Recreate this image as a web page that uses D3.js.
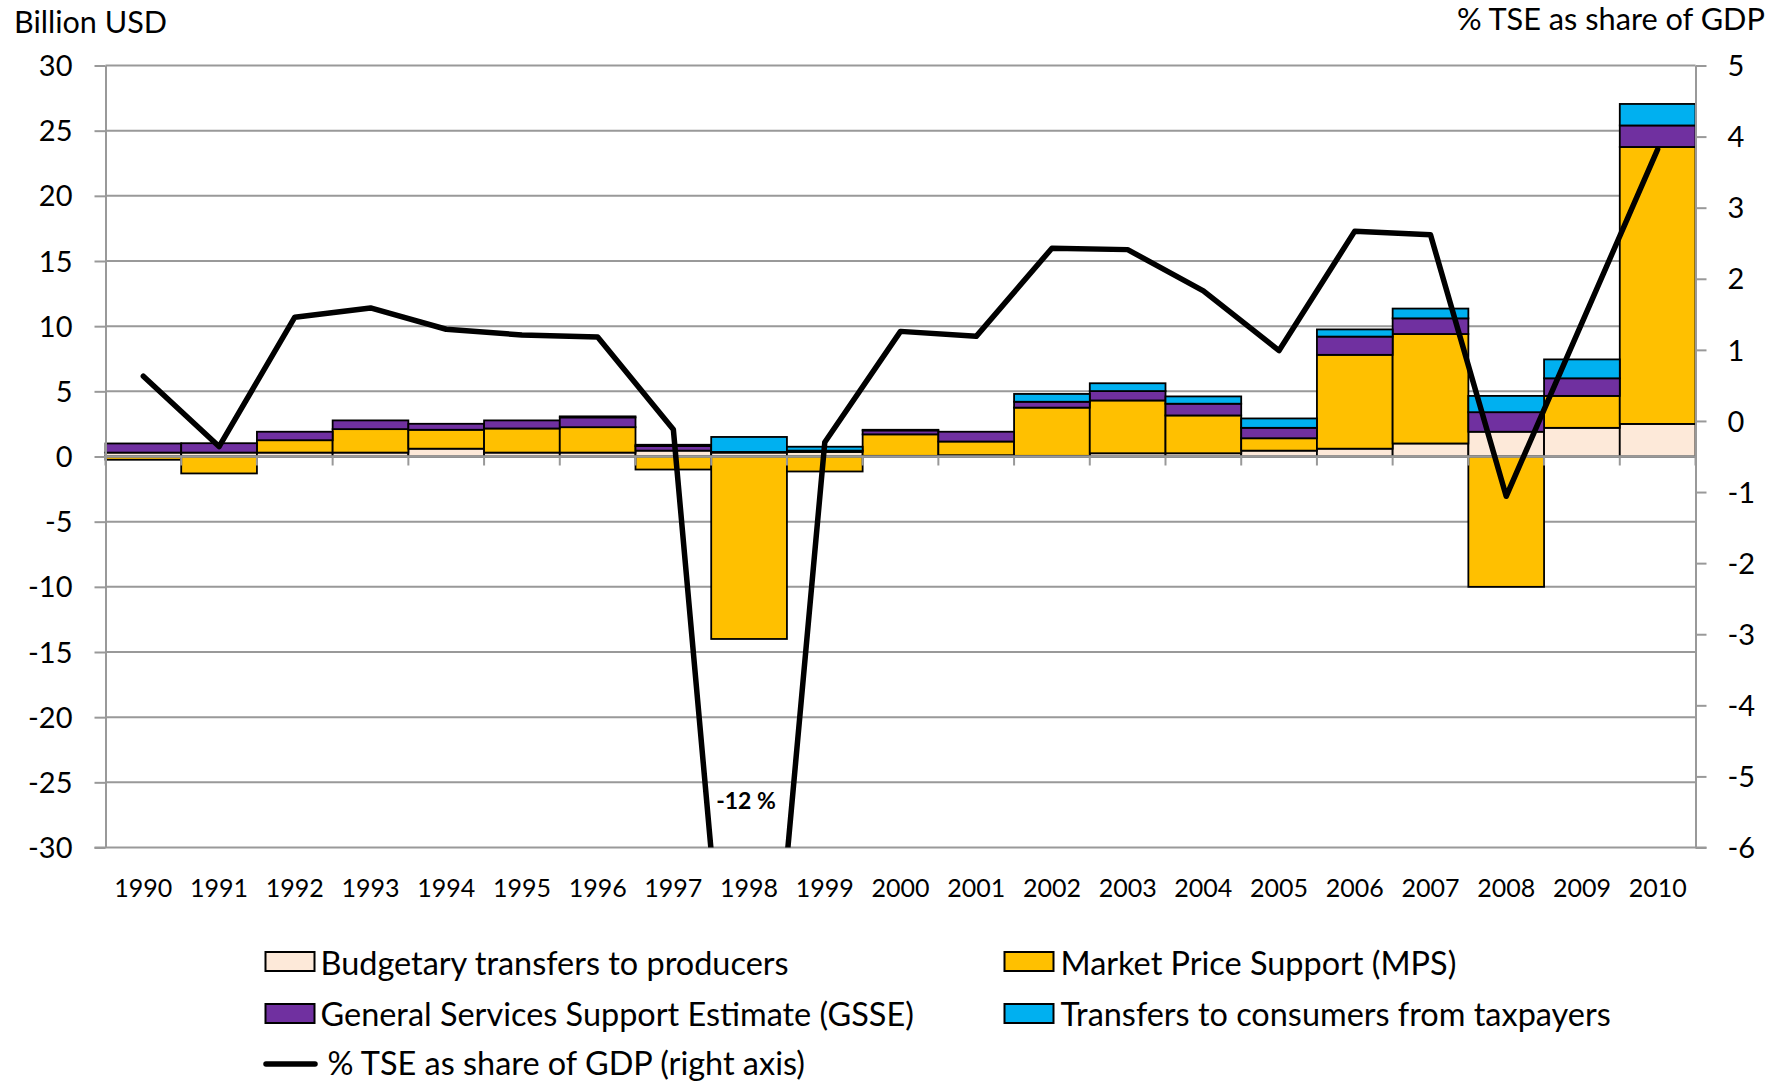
<!DOCTYPE html>
<html>
<head>
<meta charset="utf-8">
<script src="https://cdn.jsdelivr.net/npm/d3@7"></script>
<style>
  html, body { margin: 0; padding: 0; background: #fff; }
  svg { display: block; font-family: Lato, "Open Sans", sans-serif; }
</style>
</head>
<body>
<svg id="chart" width="1788" height="1081"></svg>
<script>
// ---------- data ----------
const years = ["1990","1991","1992","1993","1994","1995","1996","1997","1998","1999","2000",
               "2001","2002","2003","2004","2005","2006","2007","2008","2009","2010"];
const budgetary = [0.3, 0.3, 0.3, 0.3, 0.6, 0.3, 0.3, 0.45, 0.3, 0.35, 0.05,
                   0.1, 0.05, 0.25, 0.25, 0.45, 0.6, 1.0, 1.9, 2.2, 2.5];
const mps       = [-0.25, -1.3, 0.95, 1.8, 1.45, 1.85, 1.95, -1.0, -14.0, -1.15, 1.65,
                   1.05, 3.7, 4.05, 2.9, 0.95, 7.2, 8.4, -10.0, 2.45, 21.25];
const gsse      = [0.7, 0.72, 0.65, 0.67, 0.46, 0.62, 0.75, 0.35, 0.05, 0.1, 0.3,
                   0.75, 0.45, 0.72, 0.9, 0.8, 1.4, 1.2, 1.5, 1.35, 1.65];
const transfers = [0, 0, 0, 0, 0, 0, 0.08, 0.1, 1.15, 0.3, 0.05,
                   0, 0.6, 0.6, 0.56, 0.72, 0.55, 0.75, 1.25, 1.45, 1.65];
const tseShare  = [0.63, -0.36, 1.46, 1.59, 1.29, 1.21, 1.18, -0.12, -12, -0.3, 1.26,
                   1.19, 2.43, 2.41, 1.83, 0.99, 2.67, 2.62, -1.06, 1.38, 3.82];
const leftTicks  = [-30, -25, -20, -15, -10, -5, 0, 5, 10, 15, 20, 25, 30];
const rightTicks = [-6, -5, -4, -3, -2, -1, 0, 1, 2, 3, 4, 5];
const seriesKeys   = ["budgetary", "mps", "gsse", "transfers"];
const seriesNames  = ["Budgetary transfers to producers", "Market Price Support (MPS)",
                      "General Services Support Estimate (GSSE)", "Transfers to consumers from taxpayers"];
const seriesColors = ["#FDE9D9", "#FFC000", "#7030A0", "#00B0F0"];
const lineName = "% TSE as share of GDP (right axis)";
const leftTitle = "Billion USD";
const rightTitle = "% TSE as share of GDP";
const minLabel = "-12 %";

// ---------- layout ----------
const svg = d3.select("#chart");
const P = { l: 105.5, r: 1695.5, t: 65.5, b: 847.5 };
const grid = "#999999";

const x = d3.scaleBand().domain(years).range([P.l, P.r]).padding(0);
const yL = d3.scaleLinear().domain([-30, 30]).range([P.b, P.t]);
const yR = d3.scaleLinear().domain([-6, 5]).range([P.b, P.t]);
const plainFmt = d => String(d);

svg.append("rect").attr("width", 1788).attr("height", 1081).attr("fill", "#fff");

function fit(sel, target, base) {
  sel.attr("font-size", base);
  const w = sel.node().getComputedTextLength();
  sel.attr("font-size", base * target / w);
}

// gridlines
svg.append("g").selectAll("line").data(leftTicks.filter(v => v !== -30)).join("line")
  .attr("x1", P.l).attr("x2", P.r)
  .attr("y1", d => yL(d)).attr("y2", d => yL(d))
  .attr("stroke", grid).attr("stroke-width", 2);

// bars
const table = years.map((y, i) => ({ year: y, budgetary: budgetary[i], mps: mps[i], gsse: gsse[i], transfers: transfers[i] }));
const stacked = d3.stack().keys(seriesKeys).offset(d3.stackOffsetDiverging)(table);
const barG = svg.append("g");
stacked.forEach((s, si) => {
  barG.append("g").selectAll("rect").data(s.filter(d => d[1] !== d[0])).join("rect")
    .attr("x", d => x(d.data.year))
    .attr("width", x.bandwidth())
    .attr("y", d => yL(Math.max(d[0], d[1])))
    .attr("height", d => Math.abs(yL(d[0]) - yL(d[1])))
    .attr("fill", seriesColors[si])
    .attr("stroke", "#000").attr("stroke-width", 1.8);
});

// left axis
const axL = svg.append("g").attr("transform", `translate(${P.l},0)`)
  .call(d3.axisLeft(yL).tickValues(leftTicks).tickFormat(plainFmt).tickSize(11).tickSizeOuter(0).tickPadding(22));
axL.select(".domain").attr("stroke", grid).attr("stroke-width", 2);
axL.selectAll(".tick line").attr("stroke", grid).attr("stroke-width", 2);
axL.selectAll(".tick text").attr("font-size", 29).attr("font-family", "Lato").attr("fill", "#000").attr("dy", "0.35em");

// right axis
const axR = svg.append("g").attr("transform", `translate(${P.r},0)`)
  .call(d3.axisRight(yR).tickValues(rightTicks).tickFormat(plainFmt).tickSize(11).tickSizeOuter(0).tickPadding(21));
axR.select(".domain").attr("stroke", grid).attr("stroke-width", 2);
axR.selectAll(".tick line").attr("stroke", grid).attr("stroke-width", 2);
axR.selectAll(".tick text").attr("font-size", 29).attr("font-family", "Lato").attr("fill", "#000").attr("dy", "0.35em");

// bottom border line at -30 and zero axis
svg.append("line").attr("x1", P.l - 11).attr("x2", P.r + 11).attr("y1", yL(-30)).attr("y2", yL(-30))
  .attr("stroke", grid).attr("stroke-width", 2);
const zeroY = yL(0);
svg.append("line").attr("x1", P.l).attr("x2", P.r).attr("y1", zeroY).attr("y2", zeroY)
  .attr("stroke", grid).attr("stroke-width", 2.5);
const bounds = years.map(y => x(y)).concat([P.r]);
svg.append("g").selectAll("line").data(bounds).join("line")
  .attr("x1", d => d).attr("x2", d => d).attr("y1", zeroY).attr("y2", zeroY + 9)
  .attr("stroke", grid).attr("stroke-width", 2);

// x labels
svg.append("g").selectAll("text").data(years).join("text")
  .attr("x", d => x(d) + x.bandwidth() / 2).attr("y", 896.5)
  .attr("text-anchor", "middle").attr("font-size", 25).attr("fill", "#000")
  .text(d => d);

// line (clipped to plot area)
svg.append("clipPath").attr("id", "plotclip").append("rect")
  .attr("x", P.l).attr("y", P.t).attr("width", P.r - P.l).attr("height", P.b - P.t);
const line = d3.line().x((d, i) => x(years[i]) + x.bandwidth() / 2).y(d => yR(d));
svg.append("path").datum(tseShare).attr("clip-path", "url(#plotclip)")
  .attr("d", line).attr("fill", "none").attr("stroke", "#000").attr("stroke-width", 5.5)
  .attr("stroke-linejoin", "round").attr("stroke-linecap", "round");

// -12 % label
svg.append("text").attr("x", 746).attr("y", 809).attr("text-anchor", "middle")
  .attr("font-weight", "bold").attr("font-size", 23).text(minLabel);

// titles
const t1 = svg.append("text").attr("x", 14).attr("y", 32.5).text(leftTitle);
fit(t1, 153, 28);
const t2 = svg.append("text").attr("x", 1457).attr("y", 30).text(rightTitle);
fit(t2, 308, 28);

// legend
const legItems = [
  { i: 0, x: 265.5, cy: 961.5, tx: 320.5, base: 974.5, w: 472 },
  { i: 1, x: 1004.5, cy: 961.5, tx: 1060.5, base: 974.5, w: 398 },
  { i: 2, x: 265.5, cy: 1013.5, tx: 320.5, base: 1026, w: 592 },
  { i: 3, x: 1004.5, cy: 1013.5, tx: 1060.5, base: 1026, w: 553 }
];
const legG = svg.append("g");
const legTexts = [];
legItems.forEach(it => {
  legG.append("rect").attr("x", it.x).attr("y", it.cy - 9.5).attr("width", 49).attr("height", 19)
    .attr("fill", seriesColors[it.i]).attr("stroke", "#000").attr("stroke-width", 2);
  legTexts.push({ sel: legG.append("text").attr("x", it.tx).attr("y", it.base).text(seriesNames[it.i]), w: it.w });
});
legG.append("line").attr("x1", 266).attr("x2", 315).attr("y1", 1064).attr("y2", 1064)
  .attr("stroke", "#000").attr("stroke-width", 5.5).attr("stroke-linecap", "round");
legTexts.push({ sel: legG.append("text").attr("x", 327.5).attr("y", 1075).text(lineName), w: 471 });
let sumT = 0, sumM = 0;
legTexts.forEach(o => { o.sel.attr("font-size", 30); sumM += o.sel.node().getComputedTextLength(); sumT += o.w; });
legTexts.forEach(o => o.sel.attr("font-size", 30 * sumT / sumM));
</script>
</body>
</html>
